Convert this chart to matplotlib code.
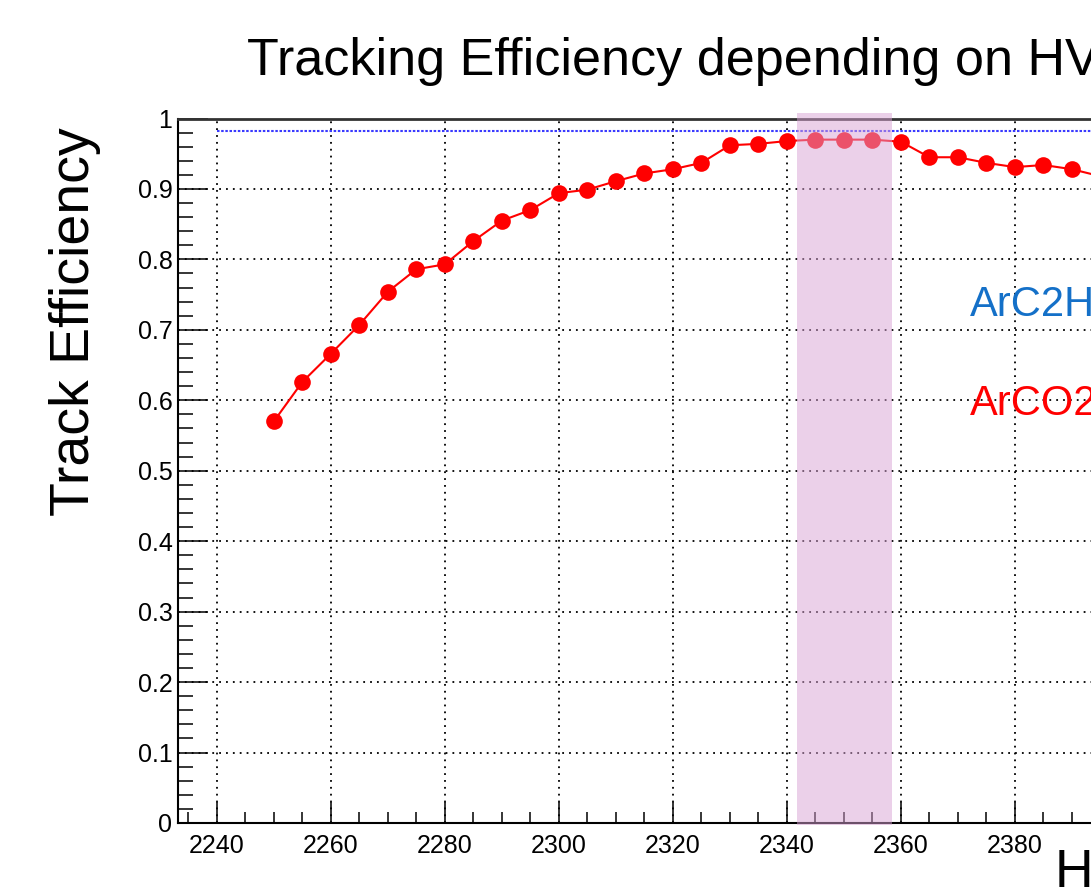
import matplotlib
matplotlib.use('Agg')
import matplotlib.pyplot as plt
from matplotlib.patches import Rectangle
from matplotlib.ticker import MultipleLocator, FuncFormatter

plt.rcParams['font.family'] = ['Liberation Sans', 'DejaVu Sans']

# ArCO2 scan
hv = [2250, 2255, 2260, 2265, 2270, 2275, 2280, 2285, 2290, 2295,
      2300, 2305, 2310, 2315, 2320, 2325, 2330, 2335, 2340, 2345,
      2350, 2355, 2360, 2365, 2370, 2375, 2380, 2385, 2390, 2395]
eff_arco2 = [0.570, 0.626, 0.666, 0.707, 0.754, 0.786, 0.793, 0.826, 0.855, 0.870,
             0.894, 0.899, 0.911, 0.922, 0.928, 0.937, 0.962, 0.964, 0.968, 0.970,
             0.970, 0.970, 0.967, 0.945, 0.945, 0.937, 0.931, 0.934, 0.928, 0.918]

# ArC2H6 reference level
hv_ref = [2240, 2420]
eff_arc2h = [0.982, 0.982]

# working point band
band_hv = [2341.7, 2358.5]

W, H = 1091, 891
fig = plt.figure(figsize=(W / 100, H / 100), dpi=100)
# axes run past the right edge of the picture (cropped plot)
ax = fig.add_axes([178 / W, 68 / H, 1065 / W, 704.5 / H])
ax.set_xlim(2233.2, 2420)
ax.set_ylim(0, 1)

ax.plot(hv_ref, eff_arc2h, color='#3a3aff', lw=1.5, ls=(0, (1.2, 0.8)), zorder=3)
ax.plot(hv, eff_arco2, color='red', lw=1.5, marker='o', ms=12,
        markeredgewidth=0, zorder=4)

band = Rectangle((band_hv[0], -0.003), band_hv[1] - band_hv[0], 1.011,
                 transform=ax.get_xaxis_transform(), facecolor='#d9a2d4',
                 alpha=0.5, edgecolor='none', clip_on=False, zorder=5)
ax.add_patch(band)

ax.xaxis.set_major_locator(MultipleLocator(20))
ax.xaxis.set_minor_locator(MultipleLocator(5))
ax.yaxis.set_major_locator(MultipleLocator(0.1))
ax.yaxis.set_minor_locator(MultipleLocator(0.02))
ax.yaxis.set_major_formatter(FuncFormatter(lambda v, p: '{:g}'.format(round(v, 2))))

ax.grid(True, which='major', color='black', lw=1.3, ls=(0, (1, 2.8)), zorder=1)
ax.tick_params(axis='both', which='both', direction='in', width=1.1,
               labelsize=18, top=False, right=False)
ax.tick_params(axis='x', which='major', length=15, pad=8)
ax.tick_params(axis='x', which='minor', length=8)
ax.tick_params(axis='y', which='major', length=21.5, pad=4)
ax.tick_params(axis='y', which='minor', length=11)

for s in ['left', 'bottom']:
    ax.spines[s].set_linewidth(1.5)
ax.spines['top'].set_linewidth(2)
ax.spines['top'].set_color('#333333')

fig.text(970 / W, 1 - 305 / H, 'ArC2H6', color='#1470c8',
         fontsize=30, va='center', ha='left')
fig.text(970 / W, 1 - 404 / H, 'ArCO2', color='red',
         fontsize=30, va='center', ha='left')

fig.text(247 / W, 1 - 75 / H, 'Tracking Efficiency depending on HV', fontsize=37.5,
         ha='left', va='baseline')
fig.text(75 / W, 1 - 322 / H, 'Track Efficiency', fontsize=40, rotation=90,
         ha='center', va='center')
fig.text(1055 / W, 1 - 887 / H, 'HV [V]', fontsize=38.5, ha='left', va='baseline')

fig.savefig('out.png', dpi=100)
